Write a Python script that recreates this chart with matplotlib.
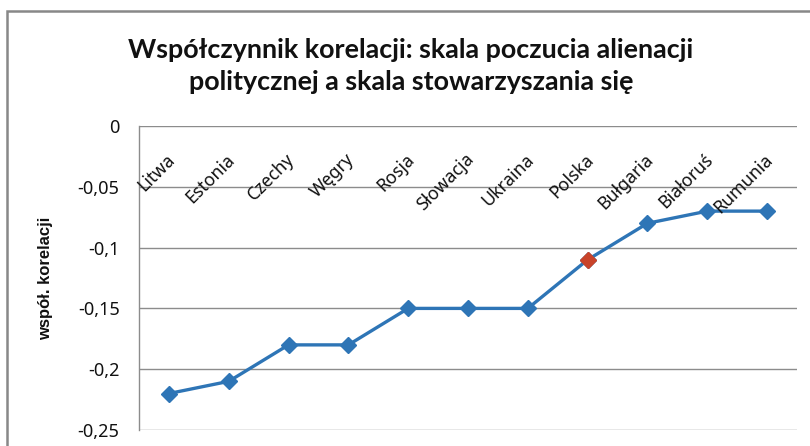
import numpy as np
import matplotlib
matplotlib.use('Agg')
import matplotlib.pyplot as plt
from matplotlib.patches import Rectangle

# --------------------------------------------------------------------------- #
# Data
# --------------------------------------------------------------------------- #
countries = ['Litwa', 'Estonia', 'Czechy', 'Węgry', 'Rosja', 'Słowacja',
             'Ukraina', 'Polska', 'Bułgaria', 'Białoruś', 'Rumunia']
corr = [-0.22, -0.21, -0.18, -0.18, -0.15, -0.15, -0.15, -0.11, -0.08, -0.07, -0.07]
highlight = 'Polska'
yticks = [0, -0.05, -0.1, -0.15, -0.2, -0.25]
yticklabels = ['0', '-0,05', '-0,1', '-0,15', '-0,2', '-0,25']

title = 'Współczynnik korelacji: skala poczucia alienacji\npolitycznej a skala stowarzyszania się'
ylabel = 'współ. korelacji'

blue = '#2E75B6';
red = '#C8432A';
grid = '#8C8C8C';
txt = '#111111';

# --------------------------------------------------------------------------- #
# Plot
# --------------------------------------------------------------------------- #
fig = plt.figure(figsize=(8.1, 4.46), dpi=100);
ax = fig.add_axes([139/810, 16/446, (797-139)/810, (430-126)/446]);

# chart frame (cut off on right and bottom like the original)
fig.patches.append(Rectangle((7/810, -0.1), 1.2, (446-11)/446 + 0.1,
                             transform=fig.transFigure, fill=False,
                             edgecolor='#888888', linewidth=1.8));

x = np.arange(len(countries));
ax.plot(x, corr, color=blue, linewidth=2.4, marker='D', markersize=8.5,
        markerfacecolor=blue, markeredgecolor=blue, zorder=3);
hi = countries.index(highlight);
ax.plot(x[hi], corr[hi], linestyle='none', marker='D', markersize=8.5,
        markerfacecolor=red, markeredgecolor=red, zorder=4);

ax.set_xlim(-0.5, len(countries) - 0.5);
ax.set_ylim(-0.25, 0);
ax.set_yticks(yticks);
ax.set_yticklabels(yticklabels, fontname='Noto Sans', fontsize=13);
ax.tick_params(axis='y', length=0, pad=14, labelcolor=txt);
ax.set_xticks([]);
for yv in yticks:
  ax.axhline(yv, color=grid, linewidth=1.0, zorder=1);

for s in ['top', 'right', 'bottom']:
  ax.spines[s].set_visible(False);
ax.spines['left'].set_color(grid);
ax.spines['left'].set_linewidth(1.0);

# category labels placed next to the (top) axis
for i, c in enumerate(countries):
  ax.text(i - 0.05, -0.02, c, rotation=45, rotation_mode='anchor',
          ha='right', va='top', fontname='Noto Sans', fontsize=12.8,
          color=txt, zorder=5);

ax.set_ylabel(ylabel, fontname='Liberation Sans', fontweight='bold',
              fontsize=12, labelpad=20, color=txt);
ax.yaxis.set_label_coords(-(139-53)/658, 0.5);

fig.text(411/810, 1 - 66/446, title, ha='center', va='center', color=txt,
         fontname='Lato', fontweight='bold', fontsize=19.4, linespacing=1.38);

fig.savefig('out.png', dpi=100);
